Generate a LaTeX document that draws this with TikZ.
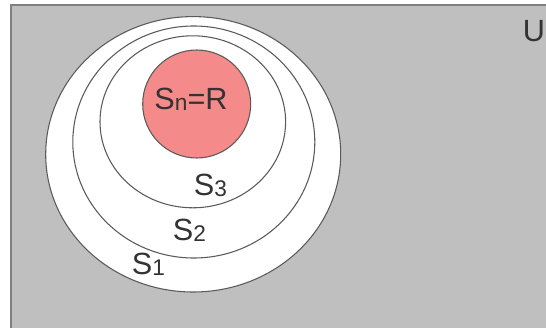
\documentclass[tikz,border=0pt]{standalone}
\usepackage{fontspec}
\setmainfont{Liberation Sans}
\definecolor{univgray}{HTML}{BFBFBF}
\definecolor{framegray}{HTML}{808080}
\definecolor{ringline}{HTML}{5A5A5A}
\definecolor{corered}{HTML}{F48A8A}
\definecolor{labeltext}{HTML}{333333}

% small index set beside the S
\newcommand{\setidx}[1]{\raisebox{-1pt}{\fontsize{17}{19}\selectfont #1}}

\begin{document}
\begin{tikzpicture}[x=0.75pt, y=-0.75pt,
  ring/.style={draw=ringline, line width=0.8pt, fill=white},
  core/.style={draw=ringline, line width=0.8pt, fill=corered},
  lbl/.style={font=\fontsize{23}{27}\selectfont, text=labeltext,
    inner sep=0pt, anchor=base}
]
\useasboundingbox (0,0) rectangle (546,328);
\clip (0,0) rectangle (546,328);
\fill[white] (0,0) rectangle (546,328);

%=== UNIVERSE ===
\draw[fill=univgray, draw=framegray, line width=1.5pt] (11,5) rectangle (570,345);

%=== NESTED SETS ===
\draw[ring] (193.2,154.3) ellipse [x radius=147.5, y radius=137.7];
\draw[ring] (193.8,142.0) ellipse [x radius=121.0, y radius=116.0];
\draw[ring] (192.8,121.8) ellipse [x radius=92.8,  y radius=86.0];
\draw[core] (196.7,104.0) circle [radius=54];

%=== LABELS ===
\node[lbl] (u)  at (534,42)    {U};
\node[lbl] (sn) at (191,109)   {S\setidx{n}=R};
\node[lbl] (s3) at (210.5,195) {S\setidx{3}};
\node[lbl] (s2) at (189.5,240) {S\setidx{2}};
\node[lbl] (s1) at (148.5,274) {S\setidx{1}};

\end{tikzpicture}
\end{document}
